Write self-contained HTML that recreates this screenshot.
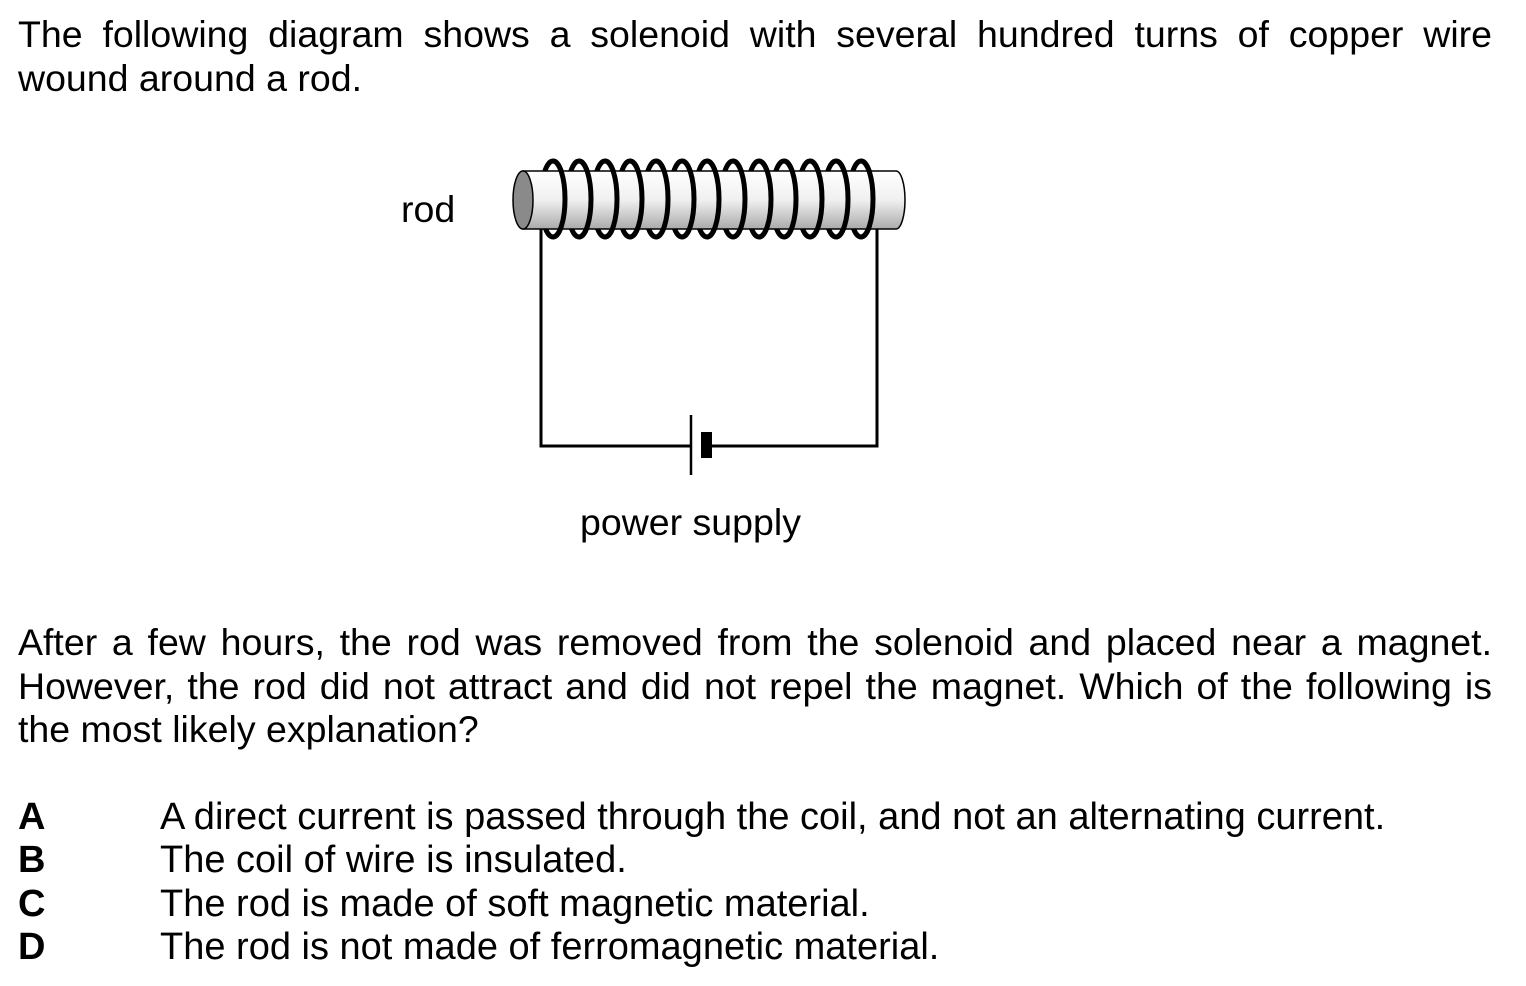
<!DOCTYPE html>
<html><head><meta charset="utf-8"><style>
body{margin:0;width:1526px;height:986px;background:#fff;position:relative;overflow:hidden;font-family:"Liberation Sans",Arial,sans-serif;color:#000}
.p{position:absolute;left:18px;width:1474px;font-size:37.5px;line-height:43.5px;text-align:justify;text-align-last:left}
.lab{position:absolute;font-size:37.5px;line-height:43.5px;white-space:nowrap}
.o{position:absolute;left:18px;font-size:38px;line-height:43.5px;white-space:nowrap}
.o b{display:inline-block;width:142px}
</style></head><body>
<div class="p" style="top:13px">The following diagram shows a solenoid with several hundred turns of copper wire wound around a rod.</div>
<div class="lab" style="left:401px;top:188px">rod</div>
<div class="lab" style="left:580px;top:501px">power supply</div>
<svg style="position:absolute;left:0;top:0" width="1526" height="986">
<defs><linearGradient id="g" x1="0" y1="0" x2="0" y2="1"><stop offset="0" stop-color="#fff"/><stop offset="0.5" stop-color="#f0f0f0"/><stop offset="1" stop-color="#aaa"/></linearGradient></defs>
<g fill="none" stroke="#000" stroke-width="5">
<ellipse cx="553" cy="199" rx="12" ry="38"/><ellipse cx="579" cy="199" rx="12" ry="38"/><ellipse cx="605" cy="199" rx="12" ry="38"/><ellipse cx="630" cy="199" rx="12" ry="38"/><ellipse cx="656" cy="199" rx="12" ry="38"/><ellipse cx="682" cy="199" rx="12" ry="38"/><ellipse cx="707" cy="199" rx="12" ry="38"/><ellipse cx="733" cy="199" rx="12" ry="38"/><ellipse cx="759" cy="199" rx="12" ry="38"/><ellipse cx="784" cy="199" rx="12" ry="38"/><ellipse cx="810" cy="199" rx="12" ry="38"/><ellipse cx="836" cy="199" rx="12" ry="38"/><ellipse cx="861" cy="199" rx="12" ry="38"/>
</g>
<path d="M523 171 H896 A9 29 0 0 1 896 229 H523 Z" fill="url(#g)" stroke="#000" stroke-width="1.5"/>
<ellipse cx="523" cy="200" rx="10" ry="29" fill="#8a8a8a" stroke="#000" stroke-width="1.5"/>
<g fill="none" stroke="#000" stroke-width="5">
<path d="M553 161A12 38 0 0 1 553 237M579 161A12 38 0 0 1 579 237M605 161A12 38 0 0 1 605 237M630 161A12 38 0 0 1 630 237M656 161A12 38 0 0 1 656 237M682 161A12 38 0 0 1 682 237M707 161A12 38 0 0 1 707 237M733 161A12 38 0 0 1 733 237M759 161A12 38 0 0 1 759 237M784 161A12 38 0 0 1 784 237M810 161A12 38 0 0 1 810 237M836 161A12 38 0 0 1 836 237M861 161A12 38 0 0 1 861 237"/>
</g>
<path d="M541 229 V446 H690 M712 446 H877 V229" fill="none" stroke="#000" stroke-width="3"/>
<line x1="691" y1="415" x2="691" y2="475" stroke="#000" stroke-width="2.5"/>
<rect x="701" y="432" width="11" height="26" fill="#000"/>
</svg>
<div class="p" style="top:621px">After a few hours, the rod was removed from the solenoid and placed near a magnet. However, the rod did not attract and did not repel the magnet. Which of the following is the most likely explanation?</div>
<div class="o" style="top:796px"><b>A</b>A direct current is passed through the coil, and not an alternating current.</div>
<div class="o" style="top:839px"><b>B</b>The coil of wire is insulated.</div>
<div class="o" style="top:883px"><b>C</b>The rod is made of soft magnetic material.</div>
<div class="o" style="top:926px"><b>D</b>The rod is not made of ferromagnetic material.</div>
</body></html>
